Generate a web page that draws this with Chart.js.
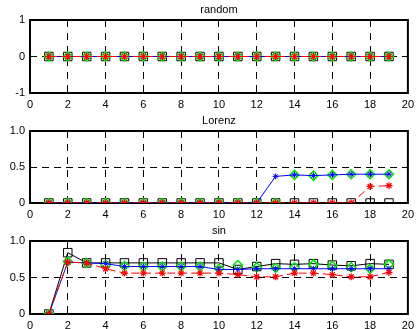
<!DOCTYPE html>
<html lang="en">
<head>
  <meta charset="UTF-8" />
  <title>random / Lorenz / sin</title>
  <style>
    body {
      margin: 0;
      background-color: white;
      overflow: hidden;
    }
    .panel {
      position: absolute;
      left: 0;
      width: 419px;
    }
  </style>
</head>
<body>
  <div class="panel" style="top:0;height:110px"><canvas id="c0"></canvas></div>
  <div class="panel" style="top:110px;height:110px"><canvas id="c1"></canvas></div>
  <div class="panel" style="top:220px;height:109px"><canvas id="c2"></canvas></div>

  <script src="https://cdn.jsdelivr.net/npm/chart.js"></script>
  <script>
    // x positions shared by every panel
    const xs = [1, 2, 3, 4, 5, 6, 7, 8, 9, 10, 11, 12, 13, 14, 15, 16, 17, 18, 19];
    const xTicks = [0, 2, 4, 6, 8, 10, 12, 14, 16, 18, 20];

    // random
    const randomBlack = [0, 0, 0, 0, 0, 0, 0, 0, 0, 0, 0, 0, 0, 0, 0, 0, 0, 0, 0];
    const randomGreen = [0, 0, 0, 0, 0, 0, 0, 0, 0, 0, 0, 0, 0, 0, 0, 0, 0, 0, 0];
    const randomBlue  = [0, 0, 0, 0, 0, 0, 0, 0, 0, 0, 0, 0, 0, 0, 0, 0, 0, 0, 0];
    const randomRed   = [0, 0, 0, 0, 0, 0, 0, 0, 0, 0, 0, 0, 0, 0, 0, 0, 0, 0, 0];
    const randomYTicks = [-1, 0, 1];

    // Lorenz
    const lorenzBlack = [0, 0, 0, 0, 0, 0, 0, 0, 0, 0, 0, 0, 0, 0, 0, 0, 0, 0, 0];
    const lorenzGreen = [0, 0, 0, 0, 0, 0, 0, 0, 0, 0, 0, 0, 0, 0.39, 0.38, 0.39, 0.40, 0.40, 0.40];
    const lorenzBlue  = [0, 0, 0, 0, 0, 0, 0, 0, 0, 0, 0, 0, 0.37, 0.39, 0.38, 0.39, 0.40, 0.40, 0.40];
    const lorenzRed   = [0, 0, 0, 0, 0, 0, 0, 0, 0, 0, 0, 0, 0, 0, 0, 0, 0, 0.23, 0.24];
    const lorenzYTicks = [0, 0.5, 1];

    // sin
    const sinBlack = [0, 0.84, 0.70, 0.70, 0.70, 0.70, 0.70, 0.70, 0.70, 0.70, 0.61, 0.65, 0.69, 0.68, 0.69, 0.67, 0.66, 0.69, 0.68];
    const sinGreen = [0, 0.72, 0.70, 0.67, 0.66, 0.65, 0.65, 0.65, 0.65, 0.62, 0.67, 0.64, 0.63, 0.64, 0.68, 0.66, 0.64, 0.62, 0.68];
    const sinBlue  = [0, 0.71, 0.70, 0.69, 0.65, 0.65, 0.65, 0.65, 0.65, 0.61, 0.61, 0.62, 0.62, 0.62, 0.62, 0.62, 0.62, 0.62, 0.62];
    const sinRed   = [0, 0.71, 0.70, 0.62, 0.56, 0.56, 0.56, 0.56, 0.56, 0.56, 0.54, 0.51, 0.51, 0.56, 0.56, 0.54, 0.51, 0.51, 0.57];
    const sinYTicks = [0, 0.5, 1];

    Chart.defaults.font.family = "'Liberation Sans', Arial, sans-serif";
    Chart.defaults.font.size = 11;
    Chart.defaults.color = '#000';

    // box round the plot area, like matlab's "box on"
    const frame = {
      id: 'frame',
      beforeDatasetsDraw(chart) {
        const { ctx, chartArea: a } = chart;
        ctx.save();
        ctx.strokeStyle = '#000';
        ctx.lineWidth = 2;
        ctx.strokeRect(a.left, a.top, a.right - a.left, a.bottom - a.top);
        ctx.restore();
      }
    };

    function toPoints(vals) {
      return xs.map((x, i) => ({ x: x, y: vals[i] }));
    }

    function datasets(black, green, blue, red) {
      // first one is drawn on top
      return [
        {
          data: toPoints(red), borderColor: '#ff0000', borderWidth: 1, borderDash: [8, 4],
          pointStyle: 'star', pointRadius: 3.5, pointBorderWidth: 1.2,
          pointBorderColor: '#ff0000', pointBackgroundColor: '#ff0000'
        },
        {
          data: toPoints(blue), borderColor: '#0000ff', borderWidth: 1,
          pointStyle: 'star', pointRadius: 3, pointBorderWidth: 1,
          pointBorderColor: '#0000ff', pointBackgroundColor: '#0000ff'
        },
        {
          data: toPoints(green), showLine: false,
          pointStyle: 'rectRot', pointRadius: 4.5, pointBorderWidth: 1.5,
          pointBorderColor: '#00e600', pointBackgroundColor: 'rgba(0,0,0,0)'
        },
        {
          data: toPoints(black), borderColor: '#000', borderWidth: 1,
          pointStyle: 'rect', pointRadius: 6, pointBorderWidth: 1,
          pointBorderColor: '#000', pointBackgroundColor: 'rgba(0,0,0,0)'
        }
      ];
    }

    function makePanel(id, title, sets, yTicks, titlePad, xHeight) {
      new Chart(document.getElementById(id), {
        type: 'line',
        data: { datasets: sets },
        options: {
          responsive: true,
          maintainAspectRatio: false,
          animation: false,
          layout: { padding: { left: 0, right: 8, top: 0, bottom: 0 } },
          plugins: {
            legend: { display: false },
            tooltip: { enabled: false },
            title: {
              display: true,
              fullSize: false,
              text: title,
              color: '#000',
              font: { size: 11, weight: 'normal', lineHeight: 1 },
              padding: titlePad
            }
          },
          elements: { line: { tension: 0 } },
          scales: {
            x: {
              type: 'linear',
              min: 0,
              max: 20,
              afterBuildTicks: s => { s.ticks = xTicks.map(v => ({ value: v })); },
              afterFit: s => { s.height = xHeight; },
              ticks: { padding: 5, maxRotation: 0 },
              border: { display: false, dash: [7, 6] },
              grid: { color: '#000', lineWidth: 1, drawTicks: false }
            },
            y: {
              type: 'linear',
              min: yTicks[0],
              max: yTicks[yTicks.length - 1],
              afterBuildTicks: s => { s.ticks = yTicks.map(v => ({ value: v })); },
              afterFit: s => { s.width = 30; },
              ticks: { padding: 5 },
              border: { display: false, dash: [7, 5] },
              grid: { color: '#000', lineWidth: 1, drawTicks: false }
            }
          }
        },
        plugins: [frame]
      });
    }

    makePanel('c0', 'random', datasets(randomBlack, randomGreen, randomBlue, randomRed),
      randomYTicks, { top: 4, bottom: 5 }, 17);
    makePanel('c1', 'Lorenz', datasets(lorenzBlack, lorenzGreen, lorenzBlue, lorenzRed),
      lorenzYTicks, { top: 5, bottom: 5 }, 17);
    makePanel('c2', 'sin', datasets(sinBlack, sinGreen, sinBlue, sinRed),
      sinYTicks, { top: 5, bottom: 5 }, 15);
  </script>
</body>
</html>
